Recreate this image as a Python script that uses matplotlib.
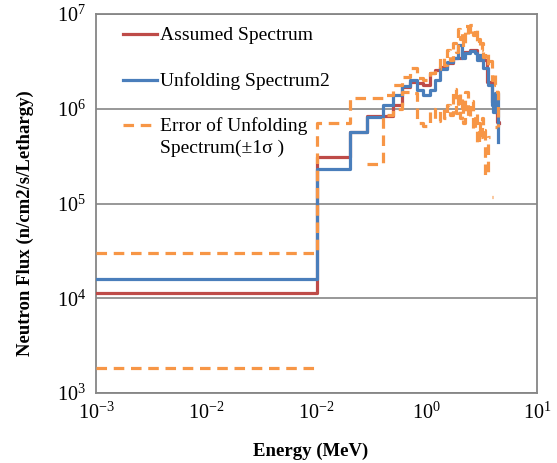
import matplotlib
matplotlib.use("Agg")
import matplotlib.pyplot as plt
import numpy as np

plt.rcParams['font.family'] = ['Liberation Serif', 'DejaVu Serif']
plt.rcParams['mathtext.fontset'] = 'custom'
plt.rcParams['mathtext.rm'] = 'Liberation Serif'

# bin edges (MeV) and flux per bin (n/cm2/s/Lethargy); last value is the end drop
assumed_edges = [0.001, 0.1, 0.2, 0.29, 0.49, 0.6, 0.7, 0.82, 0.93, 1.07, 1.19, 1.32,
                 1.53, 1.73, 2.09, 2.47, 2.86, 3.04, 3.52, 3.91, 4.16, 4.34, 4.52]
assumed_flux = [1.14e4, 3.1e5, 5.7e5, 8.4e5, 1.1e6, 1.7e6, 1.92e6, 1.87e6, 1.78e6, 2.38e6, 2.56e6,
                2.76e6, 3.04e6, 3.43e6, 3.97e6, 4.17e6, 3.69e6, 3.27e6, 1.92e6, 1.18e6, 9.3e5, 7.2e5,
                7.0e5]

unfold_edges = [0.001, 0.1, 0.2, 0.29, 0.4, 0.49, 0.6, 0.7, 0.82, 0.93, 1.07, 1.19, 1.32, 1.53,
                1.73, 1.92, 2.09, 2.22, 2.47, 2.74, 2.86, 3.04, 3.24, 3.59, 3.91, 4.0, 4.16, 4.34,
                4.43]
unfold_flux = [1.6e4, 2.31e5, 5.7e5, 8.2e5, 1.1e6, 1.4e6, 1.74e6, 2.01e6, 1.58e6, 1.40e6, 1.58e6,
               2.01e6, 2.6e6, 3.11e6, 3.43e6, 4.71e6, 3.43e6, 3.87e6, 4.07e6, 3.87e6, 3.27e6,
               3.69e6, 2.69e6, 1.78e6, 1.1e6, 9.3e5, 1.47e6, 1.47e6, 4.46e5]

err_edges = [0.001, 0.1, 0.2, 0.29, 0.4, 0.49, 0.6, 0.7, 0.82, 0.93, 1.07, 1.19, 1.32, 1.43, 1.53,
             1.63, 1.73, 1.83, 1.92, 2.0, 2.09, 2.15, 2.22, 2.35, 2.47, 2.6, 2.74, 2.86, 2.95,
             3.04, 3.14, 3.24, 3.4, 3.59, 3.75, 3.91, 4.0, 4.16, 4.34, 4.43]
err_upper = [3.0e4, 7.1e5, 1.3e6, 1.3e6, 1.4e6, 1.8e6, 2.15e6, 2.7e6, 2.1e6, 2.0e6, 2.4e6, 2.6e6,
             3.5e6, 2.9e6, 4.2e6, 3.3e6, 5.0e6, 4.0e6, 7.0e6, 5.5e6, 6.5e6, 4.5e6, 7.5e6, 5.8e6,
             7.6e6, 6.0e6, 7.2e6, 4.8e6, 5.5e6, 4.2e6, 5.0e6, 3.5e6, 4.0e6, 2.8e6, 3.2e6, 2.0e6,
             2.4e6, 1.8e6, 1.5e6, 6.4e5]
err_lower = [1.84e3, np.nan, np.nan, 2.6e5, 8.5e5, 1.0e6, 1.5e6, 1.45e6, 7.0e5, 6.5e5, 1.0e6,
             7.5e5, 1.0e6, 8.0e5, 1.1e6, 8.5e5, 1.6e6, 9.0e5, 1.5e6, 8.0e5, 1.3e6, 7.0e5, 1.5e6,
             8.0e5, 1.2e6, 6.0e5, 9.0e5, 4.2e5, 7.0e5, 5.0e5, 8.0e5, 6.0e5, 2.0e5, 5.0e5, np.nan,
             1.17e5, np.nan, 6.4e5, np.nan, np.nan]

x_ticks = [1e-3, 1e-2, 1e-1, 1e0, 1e1]
x_tick_exp = ['-3', '-2', '-2', '0', '1']
y_ticks = [1e3, 1e4, 1e5, 1e6, 1e7]
y_tick_exp = ['3', '4', '5', '6', '7']

legend_labels = ['Assumed Spectrum', 'Unfolding Spectrum2', 'Error of Unfolding\nSpectrum(±1σ )']

red = '#BE4B48'
blue = '#4A7EBB'
orange = '#F79646'
grey = '#868686'
dash = (0, (3.3, 2.1))

fig = plt.figure(figsize=(5.57, 4.63), dpi=100)
ax = fig.add_axes([96 / 557, 70 / 463, 441 / 557, 379 / 463])

ax.plot(assumed_edges, assumed_flux, drawstyle='steps-post', color=red, lw=2.3, zorder=3)
ax.plot(unfold_edges, unfold_flux, drawstyle='steps-post', color=blue, lw=2.3, zorder=4)
ax.plot(err_edges, err_upper, drawstyle='steps-post', color=orange, lw=2.3,
        linestyle=dash, zorder=5)
ax.plot(err_edges, err_lower, drawstyle='steps-post', color=orange, lw=2.3,
        linestyle=dash, zorder=5)

ax.set_xscale('log')
ax.set_yscale('log')
ax.set_xlim(1e-3, 1e1)
ax.set_ylim(1e3, 1e7)
ax.set_xticks(x_ticks)
ax.set_xticklabels([r'$\mathregular{10^{%s}}$' % e for e in x_tick_exp])
ax.set_yticks(y_ticks)
ax.set_yticklabels([r'$\mathregular{10^{%s}}$' % e for e in y_tick_exp])
ax.minorticks_off()
ax.tick_params(axis='both', length=0, labelsize=14.5)
ax.tick_params(axis='x', pad=7)
ax.tick_params(axis='y', pad=7)

ax.grid(True, axis='y', color=grey, lw=1.2)
ax.set_axisbelow(True)
for s in ax.spines.values():
    s.set_color(grey)
    s.set_linewidth(1.3)

ax.set_xlabel('Energy (MeV)', fontsize=13.5, fontweight='bold')
ax.xaxis.set_label_coords((311 - 96) / 441, (393 - 443) / 379)
ax.set_ylabel('Neutron Flux (n/cm2/s/Lethargy)', fontsize=13.5, fontweight='bold')
ax.yaxis.set_label_coords((34 - 96) / 441, (393 - 223) / 379)

# legend drawn by hand so the dashed key sits on the first line of its label
tr = ax.transAxes
def fx(px):
    return (px - 96) / 441
def fy(py):
    return (393 - py) / 379

key_y = [34, 80, 125]
styles = [dict(color=red, ls='-'), dict(color=blue, ls='-'), dict(color=orange, ls=dash)]
for lab, y, st in zip(legend_labels, key_y, styles):
    ax.plot([fx(123), fx(157)], [fy(y), fy(y)], transform=tr, lw=2.3, clip_on=False, **st)
    ax.text(fx(160), fy(y - 7.5), lab, transform=tr, fontsize=14, va='top', ha='left',
            linespacing=1.3)

fig.savefig('out.png', dpi=100)
